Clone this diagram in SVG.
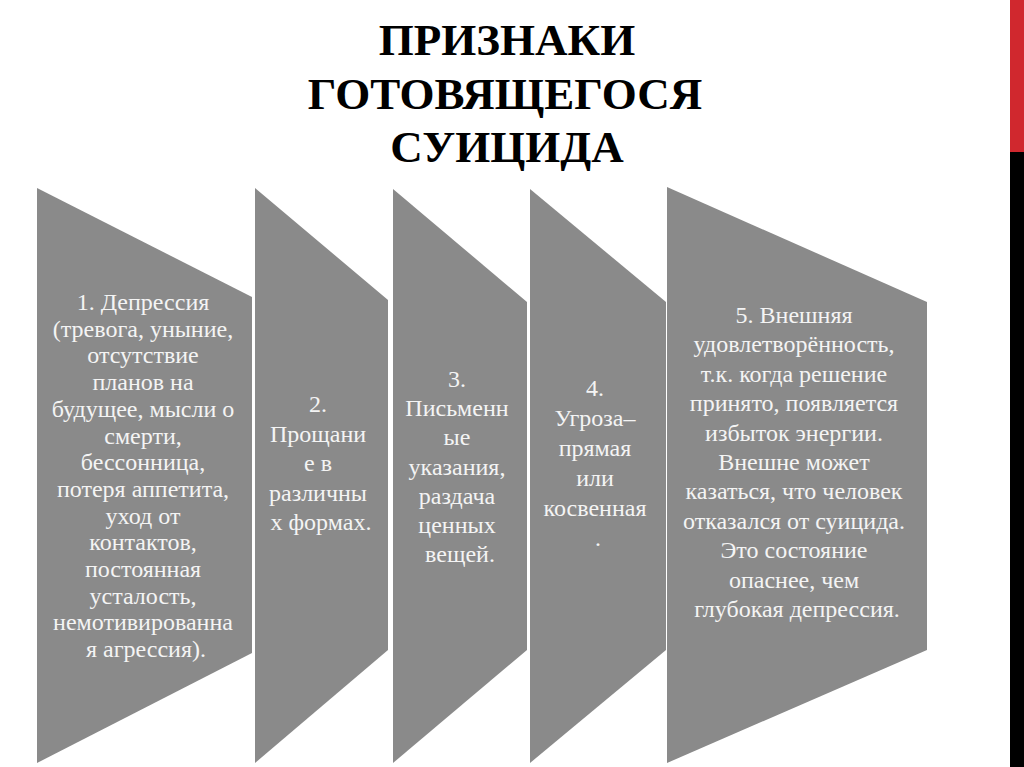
<svg xmlns="http://www.w3.org/2000/svg" width="1024" height="767" viewBox="0 0 1024 767" font-family="Liberation Serif, Times New Roman, DejaVu Serif, serif">
<style>
.shape{fill:#8a8a8a}
.t{font-size:24px;fill:#f4f4f4;text-anchor:middle}
.title{font-size:45px;font-weight:bold;fill:#000;text-anchor:middle}
</style>
<rect width="1024" height="767" fill="#fff"/>
<rect x="1010" y="0" width="14" height="152" fill="#d0282e"/>
<rect x="1010" y="152" width="14" height="615" fill="#000"/>
<g id="title" font-family="Liberation Serif, Times New Roman, DejaVu Serif, serif">
<text class="title" x="507" y="55">ПРИЗНАКИ</text>
<text class="title" x="505" y="108.5">ГОТОВЯЩЕГОСЯ</text>
<text class="title" x="507" y="162">СУИЦИДА</text>
</g>
<g id="connectors"></g>
<g id="node1" font-family="Liberation Serif, Times New Roman, DejaVu Serif, serif">
<polygon class="shape" points="37,188 252,297 252,653 37,763"/>
<text class="t">
<tspan x="146" y="310">1. Депрессия</tspan>
<tspan x="146" y="336.7">(тревога, уныние,</tspan>
<tspan x="146" y="363.4">отсутствие</tspan>
<tspan x="146" y="390.1">планов на</tspan>
<tspan x="146" y="416.8">будущее, мысли о</tspan>
<tspan x="146" y="443.5">смерти,</tspan>
<tspan x="146" y="470.2">бессонница,</tspan>
<tspan x="146" y="496.9">потеря аппетита,</tspan>
<tspan x="146" y="523.6">уход от</tspan>
<tspan x="146" y="550.3">контактов,</tspan>
<tspan x="146" y="577">постоянная</tspan>
<tspan x="146" y="603.7">усталость,</tspan>
<tspan x="146" y="630.4">немотивированна</tspan>
<tspan x="146" y="657.1">я агрессия).</tspan>
</text>
</g>
<g id="node2" font-family="Liberation Serif, Times New Roman, DejaVu Serif, serif">
<polygon class="shape" points="255,188 388,300 388,650 255,763"/>
<text class="t">
<tspan x="321" y="412">2.</tspan>
<tspan x="321" y="441.5">Прощани</tspan>
<tspan x="321" y="471">е в</tspan>
<tspan x="321" y="500.5">различны</tspan>
<tspan x="321" y="530">х формах.</tspan>
</text>
</g>
<g id="node3" font-family="Liberation Serif, Times New Roman, DejaVu Serif, serif">
<polygon class="shape" points="393,189 527,302 527,650 393,763"/>
<text class="t">
<tspan x="460" y="387">3.</tspan>
<tspan x="460" y="416.2">Письменн</tspan>
<tspan x="460" y="445.4">ые</tspan>
<tspan x="460" y="474.6">указания,</tspan>
<tspan x="460" y="503.8">раздача</tspan>
<tspan x="460" y="533">ценных</tspan>
<tspan x="460" y="562.2">вещей.</tspan>
</text>
</g>
<g id="node4" font-family="Liberation Serif, Times New Roman, DejaVu Serif, serif">
<polygon class="shape" points="530,189 666,302 666,650 530,763"/>
<text class="t">
<tspan x="598" y="396">4.</tspan>
<tspan x="598" y="426">Угроза–</tspan>
<tspan x="598" y="456">прямая</tspan>
<tspan x="598" y="486">или</tspan>
<tspan x="598" y="516">косвенная</tspan>
<tspan x="598" y="546">.</tspan>
</text>
</g>
<g id="node5" font-family="Liberation Serif, Times New Roman, DejaVu Serif, serif">
<polygon class="shape" points="667,187 927,302 927,650 667,763"/>
<text class="t">
<tspan x="797" y="323">5. Внешняя</tspan>
<tspan x="797" y="352.4">удовлетворённость,</tspan>
<tspan x="797" y="381.8">т.к. когда решение</tspan>
<tspan x="797" y="411.2">принято, появляется</tspan>
<tspan x="797" y="440.6">избыток энергии.</tspan>
<tspan x="797" y="470">Внешне может</tspan>
<tspan x="797" y="499.4">казаться, что человек</tspan>
<tspan x="797" y="528.8">отказался от суицида.</tspan>
<tspan x="797" y="558.2">Это состояние</tspan>
<tspan x="797" y="587.6">опаснее, чем</tspan>
<tspan x="797" y="617">глубокая депрессия.</tspan>
</text>
</g>
</svg>
